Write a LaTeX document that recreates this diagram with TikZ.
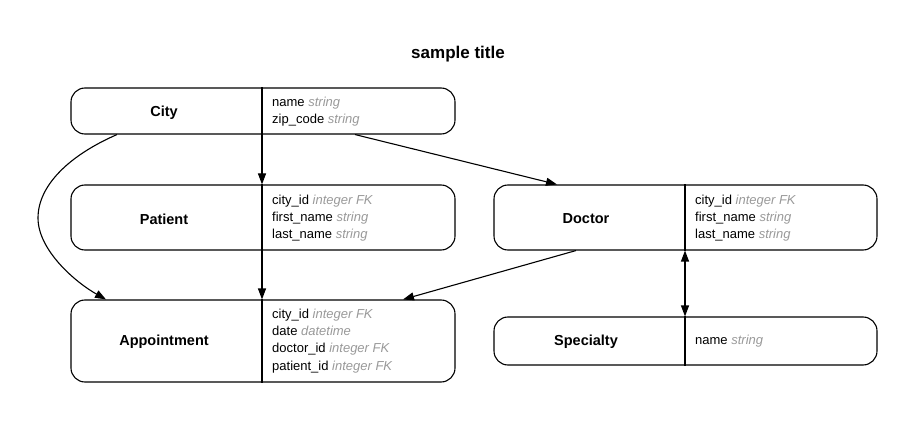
\documentclass[tikz,border=0pt]{standalone}
\usepackage{fontspec}
\setmainfont{Liberation Sans}
\usetikzlibrary{arrows.meta}
\definecolor{typegray}{HTML}{999999}
\newcommand{\fld}[2]{#1 \textcolor{typegray}{\itshape #2}}
\begin{document}
\begin{tikzpicture}[x=1pt,y=-1pt,
  tbl/.style={draw, line width=1.1pt, rounded corners=14pt, inner sep=0pt},
  lbl/.style={font=\fontsize{14.5}{17}\selectfont\bfseries, inner sep=0pt},
  flds/.style={font=\fontsize{13}{17.2}\selectfont, align=left, anchor=west, inner sep=0pt},
  divl/.style={line width=1.1pt},
  arr/.style={line width=1.1pt, -{Triangle[length=11pt,width=8pt]}},
  darr/.style={line width=1.1pt, {Triangle[length=11pt,width=8pt]}-{Triangle[length=11pt,width=8pt]}}]
\useasboundingbox (0,0) rectangle (916,422);
\node[font=\fontsize{17}{20}\selectfont\bfseries] (title) at (458,54) {sample title};
% divider x positions
\coordinate (ldiv) at (262,0);
\coordinate (rdiv) at (685,0);
% City
\node[tbl, minimum width=384pt, minimum height=46pt] (city) at (263,111) {};
\node[lbl] (cityL) at (164,113) {City};
\node[flds] (cityF) at (272,111.5) {\fld{name}{string}\\\fld{zip\_code}{string}};
\draw[divl] (city.north -| ldiv) -- (city.south -| ldiv);
% Patient
\node[tbl, minimum width=384pt, minimum height=65pt] (patient) at (263,217.5) {};
\node[lbl] (patientL) at (164,219) {Patient};
\node[flds] (patientF) at (272,218) {\fld{city\_id}{integer FK}\\\fld{first\_name}{string}\\\fld{last\_name}{string}};
\draw[divl] (patient.north -| ldiv) -- (patient.south -| ldiv);
% Appointment
\node[tbl, minimum width=384pt, minimum height=82pt] (appt) at (263,341) {};
\node[lbl] (apptL) at (164,342) {Appointment};
\node[flds] (apptF) at (272,341) {\fld{city\_id}{integer FK}\\\fld{date}{datetime}\\\fld{doctor\_id}{integer FK}\\\fld{patient\_id}{integer FK}};
\draw[divl] (appt.north -| ldiv) -- (appt.south -| ldiv);
% Doctor
\node[tbl, minimum width=383pt, minimum height=65pt] (doctor) at (685.5,217.5) {};
\node[lbl] (doctorL) at (586,219) {Doctor};
\node[flds] (doctorF) at (695,218) {\fld{city\_id}{integer FK}\\\fld{first\_name}{string}\\\fld{last\_name}{string}};
\draw[divl] (doctor.north -| rdiv) -- (doctor.south -| rdiv);
% Specialty
\node[tbl, minimum width=383pt, minimum height=48pt] (spec) at (685.5,341) {};
\node[lbl] (specL) at (586,342) {Specialty};
\node[flds] (specF) at (695,341.5) {\fld{name}{string}};
\draw[divl] (spec.north -| rdiv) -- (spec.south -| rdiv);
% edges
\draw[arr] (city.south -| ldiv) -- (patient.north -| ldiv);
\draw[arr] (patient.south -| ldiv) -- (appt.north -| ldiv);
\draw[arr] ([xshift=92pt]city.south) -- ([xshift=-128.5pt]doctor.north);
\draw[arr] ([xshift=-146pt]city.south) .. controls (70,155) and (38,185) .. (38,218)
   .. controls (38,250) and (75,282) .. ([xshift=-157pt]appt.north);
\draw[arr] ([xshift=-109.5pt]doctor.south) -- ([xshift=140pt]appt.north);
\draw[darr] (doctor.south -| rdiv) -- (spec.north -| rdiv);
\end{tikzpicture}
\end{document}
